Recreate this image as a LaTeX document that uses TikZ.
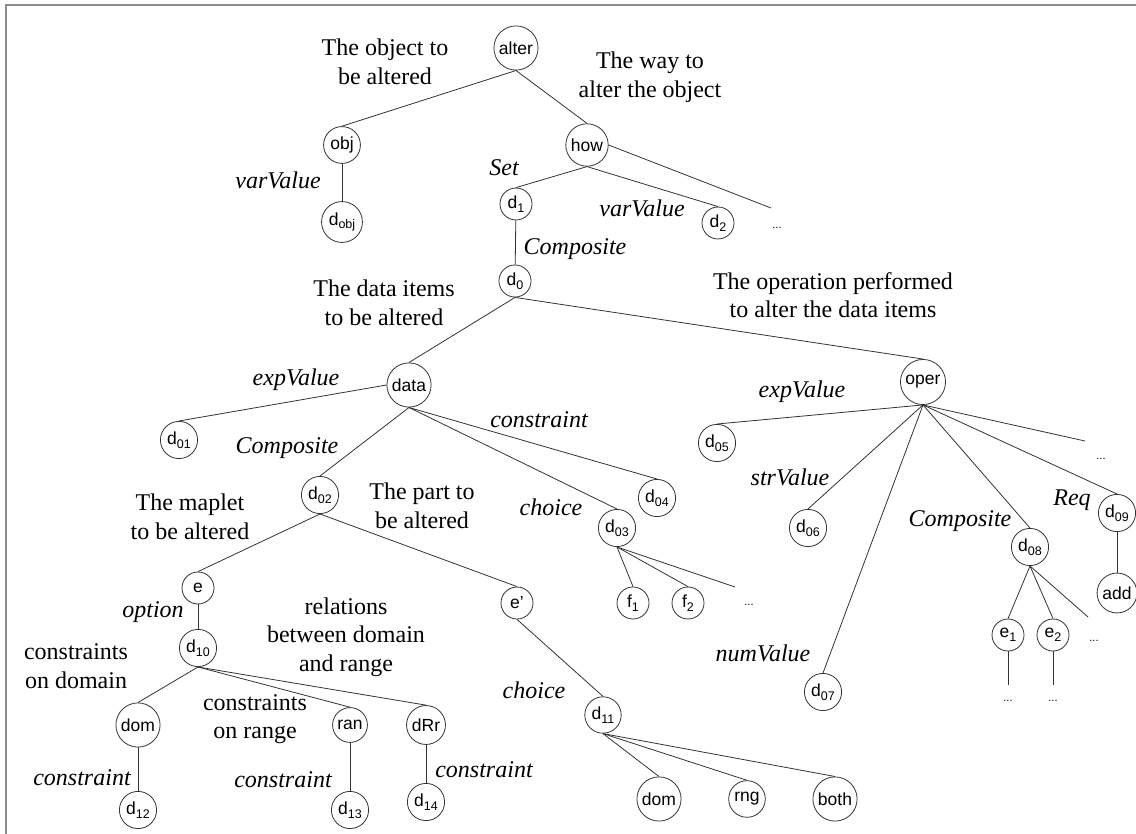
\documentclass[tikz,border=0pt]{standalone}
\usepackage{fontspec}
\setmainfont{Liberation Serif}
\setsansfont{Liberation Sans}
\newcommand{\sbx}[1]{\raisebox{-0.22em}{\fontsize{12.5}{13}\selectfont #1}}
\begin{document}
\begin{tikzpicture}[x=1pt,y=-1pt,
  nd/.style={circle,draw=black!80,line width=0.8pt,inner sep=3pt,minimum size=32pt,font=\sffamily\fontsize{17.5}{20}\selectfont},
  lab/.style={font=\itshape\fontsize{24}{28}\selectfont,inner sep=0pt},
  txt/.style={font=\fontsize{24}{28.5}\selectfont,align=center,inner sep=0pt},
  dts/.style={font=\sffamily\fontsize{11}{12}\selectfont,inner sep=0pt},
  ln/.style={draw=black!80,line width=0.8pt}]
\useasboundingbox (0,0) rectangle (1136,834);
\draw[black!45,line width=2pt] (6,834) -- (6,5) -- (1136,5);
% nodes
\node[nd] (alter) at (516,48) {alter};
\node[nd] (obj) at (342,145) {obj};
\node[nd] (dobj) at (342,222) {d\sbx{obj}};
\node[nd] (how) at (587,145) {how};
\node[nd] (d1) at (516,204) {d\sbx{1}};
\node[nd] (d2) at (718,223) {d\sbx{2}};
\coordinate (h3) at (771,208);
\node[dts] (dt1) at (777,228) {...};
\node[nd] (d0) at (515,281) {d\sbx{0}};
\node[nd] (data) at (409,385) {data};
\node[nd] (oper) at (923,382) {oper};
\node[nd] (d01) at (179,440) {d\sbx{01}};
\node[nd] (d02) at (320,495) {d\sbx{02}};
\node[nd] (d03) at (617,528) {d\sbx{03}};
\node[nd] (d04) at (657,498) {d\sbx{04}};
\node[nd] (f1) at (633,603) {f\sbx{1}};
\node[nd] (f2) at (688,603) {f\sbx{2}};
\coordinate (f3) at (735,587);
\node[dts] (dt2) at (749,605) {...};
\node[nd] (d05) at (717,443) {d\sbx{05}};
\node[nd] (d06) at (808,528) {d\sbx{06}};
\node[nd] (d07) at (823,692) {d\sbx{07}};
\node[nd] (d08) at (1030,547) {d\sbx{08}};
\node[nd] (d09) at (1117,513) {d\sbx{09}};
\node[nd] (add) at (1117,593) {add};
\coordinate (o7) at (1085,441);
\node[dts] (dt3) at (1101,459) {...};
\node[nd] (e1) at (1008,635) {e\sbx{1}};
\node[nd] (e2) at (1053,635) {e\sbx{2}};
\coordinate (e3) at (1088,617);
\node[dts] (dt4) at (1094,641) {...};
\coordinate (e1b) at (1008,685);
\coordinate (e2b) at (1053,685);
\node[dts] (dt5) at (1008,701) {...};
\node[dts] (dt6) at (1053,701) {...};
\node[nd] (e) at (198,588) {e};
\node[nd] (d10) at (198,648) {d\sbx{10}};
\node[nd] (ep) at (517,603) {e’};
\node[nd] (d11) at (603,715) {d\sbx{11}};
\node[nd] (dom) at (138,725) {dom};
\node[nd] (ran) at (350,725) {ran};
\node[nd] (dRr) at (426,725) {dRr};
\node[nd] (d12) at (138,810) {d\sbx{12}};
\node[nd] (d13) at (350,810) {d\sbx{13}};
\node[nd] (d14) at (426,802) {d\sbx{14}};
\node[nd] (dom2) at (659,799) {dom};
\node[nd] (rng) at (747,799) {rng};
\node[nd] (both) at (835,799) {both};
% edges
\draw[ln] (alter.south) -- (obj.north);
\draw[ln] (alter.south) -- (how.north);
\draw[ln] (obj) -- (dobj);
\draw[ln] (how.south) -- (d1.north);
\draw[ln] (how.south) -- (d2.north);
\draw[ln] (how.east) -- (h3);
\draw[ln] (d1) -- (d0);
\draw[ln] (d0.south) -- (data.north);
\draw[ln] (d0.south) -- (oper.north);
\draw[ln] (data.west) -- (d01.north);
\draw[ln] (data.south) -- (d02.north);
\draw[ln] (data.south) -- (d03.north);
\draw[ln] (data.south) -- (d04.north);
\draw[ln] (d03.south) -- (f1.north);
\draw[ln] (d03.south) -- (f2.north);
\draw[ln] (d03.south) -- (f3);
\draw[ln] (oper.south) -- (d05.north);
\draw[ln] (oper.south) -- (d06.north);
\draw[ln] (oper.south) -- (d07.north);
\draw[ln] (oper.south) -- (d08.north);
\draw[ln] (oper.south) -- (d09.north);
\draw[ln] (oper.south) -- (o7);
\draw[ln] (d09) -- (add);
\draw[ln] (d08.south) -- (e1.north);
\draw[ln] (d08.south) -- (e2.north);
\draw[ln] (d08.south) -- (e3);
\draw[ln] (e1.south) -- (e1b);
\draw[ln] (e2.south) -- (e2b);
\draw[ln] (d02.south) -- (e.north);
\draw[ln] (d02.south) -- (ep.north);
\draw[ln] (e) -- (d10);
\draw[ln] (d10.south) -- (dom.north);
\draw[ln] (d10.south) -- (ran.north);
\draw[ln] (d10.south) -- (dRr.north);
\draw[ln] (dom) -- (d12);
\draw[ln] (ran) -- (d13);
\draw[ln] (dRr) -- (d14);
\draw[ln] (ep.south) -- (d11.north);
\draw[ln] (d11.south) -- (dom2.north);
\draw[ln] (d11.south) -- (rng.north);
\draw[ln] (d11.south) -- (both.north);
% italic labels
\node[lab] (l1) at (278,180) {varValue};
\node[lab] (l2) at (504,168) {Set};
\node[lab] (l3) at (642,208) {varValue};
\node[lab] (l4) at (575,249) {Composite};
\node[lab] (l5) at (296,380) {expValue};
\node[lab] (l6) at (539,420) {constraint};
\node[lab] (l7) at (287,448) {Composite};
\node[lab] (l8) at (551,507) {choice};
\node[lab] (l9) at (153,612) {option};
\node[lab] (l10) at (534,690) {choice};
\node[lab] (l11) at (82,778) {constraint};
\node[lab] (l12) at (283,780) {constraint};
\node[lab] (l13) at (484,770) {constraint};
\node[lab] (l14) at (802,392) {expValue};
\node[lab] (l15) at (790,477) {strValue};
\node[lab] (l16) at (960,521) {Composite};
\node[lab] (l17) at (1072,500) {Req};
\node[lab] (l18) at (763,653) {numValue};
% descriptive texts
\node[txt] (t1) at (385,62) {The object to\\be altered};
\node[txt] (t2) at (650,77) {The way to\\alter the object};
\node[txt] (t3) at (384,303) {The data items\\to be altered};
\node[txt] (t4) at (833,295) {The operation performed\\to alter the data items};
\node[txt] (t5) at (190,517) {The maplet\\to be altered};
\node[txt] (t6) at (422,506) {The part to\\be altered};
\node[txt] (t7) at (346,637) {relations\\between domain\\and range};
\node[txt] (t8) at (76,666) {constraints\\on domain};
\node[txt] (t9) at (255,719) {constraints\\on range};
\end{tikzpicture}
\end{document}
